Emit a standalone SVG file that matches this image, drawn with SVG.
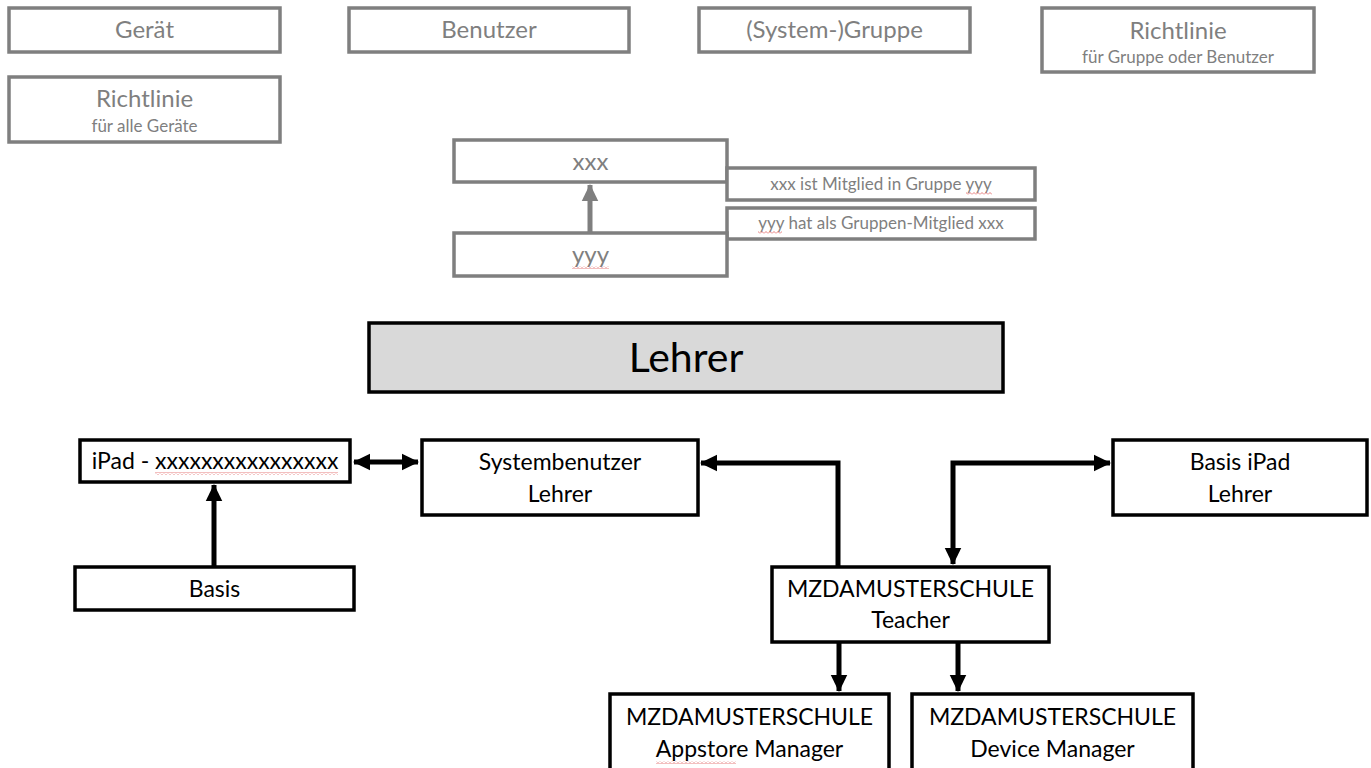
<svg xmlns="http://www.w3.org/2000/svg" width="1371" height="768" viewBox="0 0 1371 768">
<style>
.g rect{fill:#fff;stroke:#7f7f7f;stroke-width:3.5}
.g text{fill:#7f7f7f;font-family:Lato,"Noto Sans",sans-serif;text-anchor:middle;font-size:24px}
.g text.s{font-size:17px}
.b rect{fill:#fff;stroke:#000;stroke-width:3.5}
.b text{fill:#000;font-family:Lato,"Noto Sans",sans-serif;text-anchor:middle;font-size:23px}
.c{fill:none;stroke:#000;stroke-width:5}
.cg{fill:none;stroke:#7f7f7f;stroke-width:5}
rect.sq{fill:url(#wavy);stroke:none}
</style>
<defs>
<marker id="ah" markerWidth="4" markerHeight="4" refX="3.2" refY="2" orient="auto-start-reverse" markerUnits="strokeWidth"><path d="M0,0.35 L3.4,2 L0,3.65 z" fill="#000"/></marker>
<marker id="ahg" markerWidth="4" markerHeight="4" refX="3.2" refY="2" orient="auto" markerUnits="strokeWidth"><path d="M0,0.35 L3.4,2 L0,3.65 z" fill="#7f7f7f"/></marker>
<pattern id="wavy" width="4" height="3" patternUnits="userSpaceOnUse"><path d="M0,2.5 L2,0.5 L4,2.5" fill="none" stroke="#e06060" stroke-width="0.8"/></pattern>
</defs>

<g id="legend-geraet" class="g"><rect x="9" y="8" width="271" height="44"/><text x="144.5" y="38">Gerät</text></g>
<g id="legend-benutzer" class="g"><rect x="349" y="8" width="280" height="44"/><text x="489" y="38">Benutzer</text></g>
<g id="legend-gruppe" class="g"><rect x="699" y="8" width="271" height="44"/><text x="834.5" y="38">(System-)Gruppe</text></g>
<g id="legend-richtlinie-gruppe" class="g"><rect x="1042" y="8" width="272" height="64"/><text x="1178" y="39">Richtlinie</text><text class="s" x="1178" y="63">für Gruppe oder Benutzer</text></g>
<g id="legend-richtlinie-geraete" class="g"><rect x="9" y="77" width="271" height="65"/><text x="144.5" y="107">Richtlinie</text><text class="s" x="144.5" y="132">für alle Geräte</text></g>

<g id="legend-xxx" class="g"><rect x="454" y="140" width="273" height="42"/><text x="590.5" y="170">xxx</text></g>
<g id="legend-xxx-label" class="g"><rect x="727" y="168" width="308" height="32"/><text class="s" x="881" y="190">xxx ist Mitglied in Gruppe yyy</text><rect class="sq" x="966" y="192" width="26" height="3"/></g>
<g id="legend-yyy-label" class="g"><rect x="727" y="208" width="308" height="31"/><text class="s" x="881" y="229">yyy hat als Gruppen-Mitglied xxx</text><rect class="sq" x="758" y="231" width="24" height="3"/></g>
<g id="legend-yyy" class="g"><rect x="454" y="233" width="273" height="43"/><text x="590.5" y="263">yyy</text><rect class="sq" x="572" y="266" width="37" height="3"/></g>

<g id="lehrer-title"><rect x="369" y="323" width="634" height="69" fill="#d9d9d9" stroke="#000" stroke-width="3.5"/><text x="686" y="372" font-family="Lato,'Noto Sans',sans-serif" font-size="41" text-anchor="middle">Lehrer</text></g>

<g id="ipad" class="b"><rect x="80" y="440" width="270" height="42"/><text x="215" y="469">iPad - xxxxxxxxxxxxxxxx</text><rect class="sq" x="155" y="472" width="183" height="3"/></g>
<g id="systembenutzer" class="b"><rect x="422" y="440" width="276" height="75"/><text x="560" y="470">Systembenutzer</text><text x="560" y="502">Lehrer</text></g>
<g id="basis-ipad" class="b"><rect x="1113" y="440" width="254" height="75"/><text x="1240" y="470">Basis iPad</text><text x="1240" y="502">Lehrer</text></g>
<g id="basis" class="b"><rect x="75" y="567" width="279" height="43"/><text x="214.5" y="597">Basis</text></g>
<g id="teacher" class="b"><rect x="772" y="567" width="277" height="75"/><text x="910.5" y="597">MZDAMUSTERSCHULE</text><text x="910.5" y="628">Teacher</text></g>
<g id="appstore" class="b"><rect x="610" y="694" width="279" height="80"/><text x="749.5" y="725">MZDAMUSTERSCHULE</text><text x="749.5" y="757">Appstore Manager</text><rect class="sq" x="656" y="761" width="80" height="3"/></g>
<g id="device" class="b"><rect x="912" y="694" width="281" height="80"/><text x="1052.5" y="725">MZDAMUSTERSCHULE</text><text x="1052.5" y="757">Device Manager</text></g>

<g id="connectors">
<path class="cg" d="M590,233 V185" marker-end="url(#ahg)"/>
<path class="c" d="M354,462 H418" marker-start="url(#ah)" marker-end="url(#ah)"/>
<path class="c" d="M214,567 V485" marker-end="url(#ah)"/>
<path class="c" d="M838,567 V463 H701" marker-end="url(#ah)"/>
<path class="c" d="M953,564 V463 H1110" marker-start="url(#ah)" marker-end="url(#ah)"/>
<path class="c" d="M839,642 V691" marker-end="url(#ah)"/>
<path class="c" d="M958,642 V691" marker-end="url(#ah)"/>
</g>
</svg>
